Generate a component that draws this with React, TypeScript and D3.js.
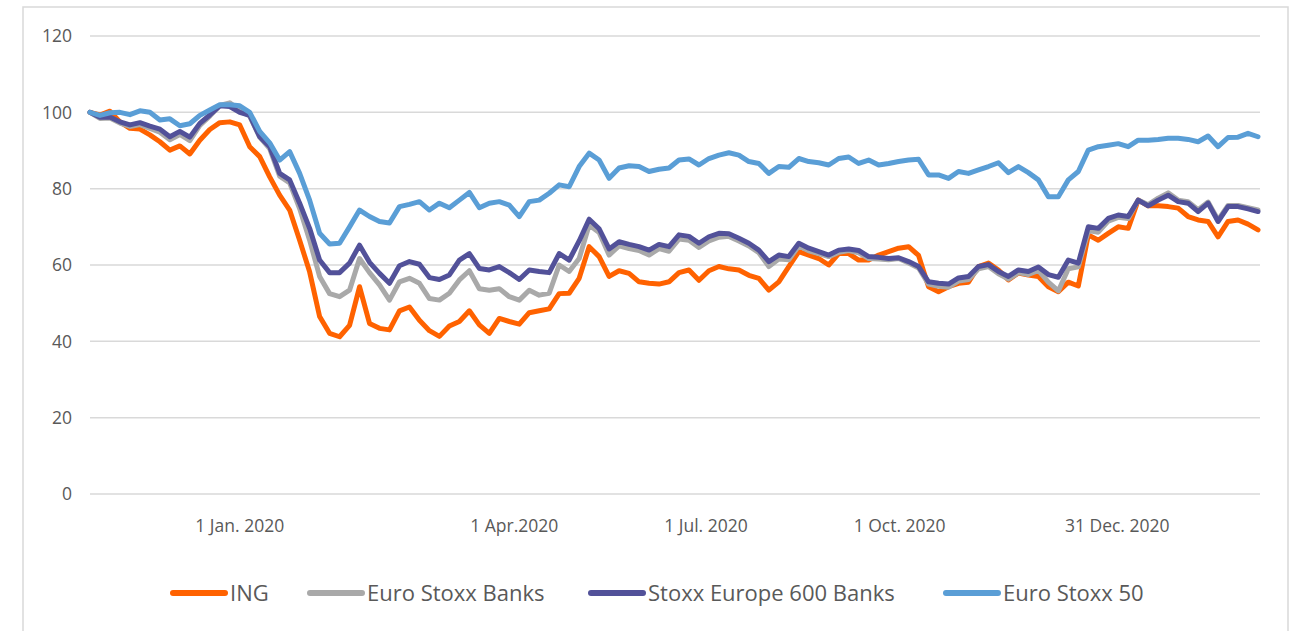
import { scaleLinear, line as d3line, curveLinear } from "d3";

// weekly-ish index series, rebased to 100
const ing = [
  100, 99.3, 100.3, 97.5, 95.8, 95.6, 94.1, 92.3, 90.1, 91.2, 89.1, 92.7, 95.5, 97.3, 97.5, 96.7, 91, 88.4, 83.1, 78.3,
  74.4, 66.5, 58.2, 46.5, 42.1, 41.2, 44.2, 54.3, 44.7, 43.4, 43, 48, 49, 45.5, 42.8, 41.3, 44, 45.2, 48, 44.3,
  42.1, 46, 45.2, 44.5, 47.5, 48, 48.5, 52.5, 52.6, 56.5, 64.8, 62.2, 57, 58.5, 57.8, 55.6, 55.2, 55, 55.6, 58,
  58.7, 56, 58.5, 59.6, 59, 58.7, 57.3, 56.5, 53.4, 55.6, 59.6, 63.5, 62.6, 61.7, 60, 63, 63, 61.3, 61.3, 62.6,
  63.5, 64.4, 64.8, 62.5, 54.3, 53, 54.3, 55.2, 55.5, 59.6, 60.5, 58.7, 56.1, 57.9, 57.4, 57, 54.3, 53, 55.5, 54.5,
  67.9, 66.5, 68.3, 70, 69.6, 77, 75.5, 75.5, 75.3, 74.9, 72.7, 71.8, 71.4, 67.4, 71.4, 71.8, 70.7, 69.2,
];

const euroStoxxBanks = [
  100, 98.4, 98.5, 97.2, 96.3, 96.8, 95.8, 94.8, 92.8, 94.2, 92.6, 96.6, 99, 101.8, 102.5, 100.5, 99, 93.5, 90.5, 83.3,
  81.5, 74.8, 66.5, 57, 52.5, 51.7, 53.4, 61.7, 58, 54.8, 50.8, 55.6, 56.5, 55.2, 51.2, 50.8, 52.6, 56.1, 58.5, 53.8,
  53.4, 53.8, 51.7, 50.8, 53.4, 52.1, 52.6, 60, 58.3, 61.7, 70.5, 68.5, 62.6, 65, 64.3, 63.8, 62.6, 64.3, 63.6, 66.8,
  66.5, 64.6, 66.3, 67.3, 67.5, 66.3, 65, 63.2, 59.6, 61.6, 61.4, 65, 63.7, 63, 62.2, 63.3, 63.8, 63.2, 61.7, 61.6,
  61.4, 61.7, 60.5, 59.2, 55, 54.4, 54.2, 55.8, 56.2, 59, 59.6, 57.7, 56.3, 58, 57.5, 58.6, 55.5, 53.2, 59, 59.5,
  69, 68.6, 71.5, 72.5, 72.2, 77, 75.8, 77.5, 78.9, 77, 76.6, 74.5, 76.5, 71.8, 75.6, 75.6, 75, 74.4,
];

const stoxx600Banks = [
  100, 98.7, 98.8, 97.5, 96.7, 97.3, 96.4, 95.6, 93.6, 95, 93.5, 97.1, 99.3, 101.7, 101.5, 100, 99.2, 93.6, 91, 84,
  82.3, 76.2, 69.6, 61.3, 58, 58, 60.5, 65.2, 60.7, 57.8, 55.2, 59.8, 60.9, 60.2, 56.7, 56.2, 57.4, 61.3, 63, 59.1,
  58.7, 59.6, 58, 56.2, 58.7, 58.3, 58, 63, 61.3, 66.3, 72, 69.5, 64.2, 66.1, 65.4, 64.8, 63.9, 65.4, 64.8, 67.9,
  67.5, 65.7, 67.4, 68.3, 68.2, 67, 65.7, 63.9, 60.9, 62.6, 62.2, 65.7, 64.4, 63.5, 62.6, 63.9, 64.2, 63.8, 62.2, 62,
  61.7, 61.9, 60.9, 59.6, 55.6, 55.2, 55, 56.6, 57, 59.6, 60.1, 58.3, 57, 58.7, 58.3, 59.5, 57.5, 56.8, 61.3, 60.5,
  70, 69.6, 72.2, 73.1, 72.7, 77, 75.5, 77, 78.3, 76.6, 76.2, 74, 76.2, 71.4, 75.3, 75.3, 74.7, 74,
];

const euroStoxx50 = [
  100, 99.2, 99.9, 100, 99.4, 100.4, 100, 98, 98.3, 96.5, 97, 99.2, 100.6, 102, 102, 101.7, 100, 95, 92, 87.5,
  89.7, 84, 77, 68.3, 65.5, 65.7, 70, 74.4, 72.7, 71.4, 71, 75.3, 75.9, 76.6, 74.4, 76.2, 75, 77, 79, 75,
  76.2, 76.6, 75.7, 72.7, 76.6, 77, 78.8, 81, 80.5, 85.8, 89.3, 87.5, 82.7, 85.4, 86, 85.8, 84.5, 85.1, 85.4, 87.5,
  87.8, 86.2, 87.9, 88.8, 89.4, 88.8, 87.1, 86.6, 84, 85.8, 85.6, 87.9, 87.1, 86.8, 86.2, 87.9, 88.3, 86.6, 87.5, 86.2,
  86.6, 87.1, 87.5, 87.7, 83.6, 83.6, 82.7, 84.5, 84, 84.9, 85.8, 86.8, 84.2, 85.8, 84.2, 82.3, 77.9, 77.9, 82.3, 84.5,
  90.1, 91, 91.4, 91.8, 91, 92.7, 92.7, 92.9, 93.2, 93.2, 92.9, 92.3, 93.8, 91, 93.4, 93.5, 94.5, 93.6,
];

const seriesNames = ["ING", "Euro Stoxx Banks", "Stoxx Europe 600 Banks", "Euro Stoxx 50"];
const seriesColors = ["#FF6200", "#A9A9A9", "#525199", "#5A9ED6"];
const seriesValues = [ing, euroStoxxBanks, stoxx600Banks, euroStoxx50];

const yTicks = [0, 20, 40, 60, 80, 100, 120];
// label position expressed as index along the series
const xTickIdx = [15, 42.5, 61.7, 81.1, 102.9];
const xTickLabels = ["1 Jan. 2020", "1 Apr.2020", "1 Jul. 2020", "1 Oct. 2020", "31 Dec. 2020"];

// legend item left edges (line start)
const legendX = [171, 308, 589, 944];

const WIDTH = 1300;
const HEIGHT = 631;
const PLOT = { left: 90, right: 1260, top: 36, bottom: 494 };
const FONT = "'Open Sans', 'Noto Sans', sans-serif";
const TEXT = "#595959";
const GRID = "#d9d9d9";

export default function App() {
  const n = ing.length;
  const x = scaleLinear().domain([0, n - 1]).range([PLOT.left, 1258]);
  const y = scaleLinear().domain([0, 120]).range([PLOT.bottom, PLOT.top]);

  const path = d3line<number>()
    .x((_, i) => x(i))
    .y((d) => y(d))
    .curve(curveLinear);

  return (
    <svg
      width={WIDTH}
      height={HEIGHT}
      viewBox={`0 0 ${WIDTH} ${HEIGHT}`}
      style={{ position: "absolute", left: 0, top: 0, background: "#fff" }}
      fontFamily={FONT}
    >
      <rect x={23} y={7} width={1265} height={640} fill="#fff" stroke={GRID} strokeWidth={1.5} />

      {/* Gridlines + y labels */}
      {yTicks.map((t) => (
        <g key={t}>
          <line x1={PLOT.left} x2={PLOT.right} y1={y(t)} y2={y(t)} stroke={GRID} strokeWidth={1.5} />
          <text x={72} y={y(t)} dy="0.36em" textAnchor="end" fontSize={17.5} fill={TEXT}>
            {t}
          </text>
        </g>
      ))}

      {/* X labels */}
      {xTickIdx.map((p, i) => (
        <text key={i} x={x(p)} y={532} textAnchor="middle" fontSize={17.5} fill={TEXT}>
          {xTickLabels[i]}
        </text>
      ))}

      {/* Lines */}
      {seriesValues.map((vals, i) => (
        <path
          key={seriesNames[i]}
          d={path(vals) ?? ""}
          fill="none"
          stroke={seriesColors[i]}
          strokeWidth={5}
          strokeLinejoin="round"
          strokeLinecap="round"
        />
      ))}

      {/* Legend */}
      {seriesNames.map((name, i) => (
        <g key={name} transform={`translate(${legendX[i]},593)`}>
          <line x1={2} x2={54} y1={0} y2={0} stroke={seriesColors[i]} strokeWidth={6} strokeLinecap="round" />
          <text x={59} y={0} dy="0.36em" fontSize={22} fill={TEXT}>
            {name}
          </text>
        </g>
      ))}
    </svg>
  );
}
